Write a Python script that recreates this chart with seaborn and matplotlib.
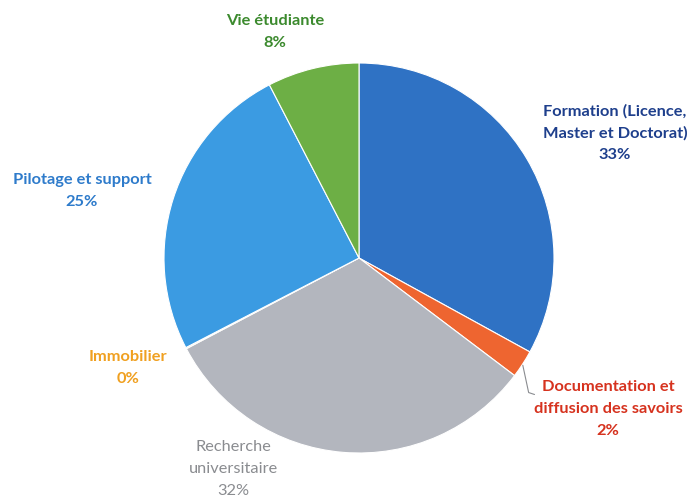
import matplotlib
matplotlib.use("Agg")
import matplotlib.pyplot as plt
import seaborn as sns

sns.set_theme(style="white")
plt.rcParams['font.family'] = ['Lato', 'DejaVu Sans']

categories = ["Formation (Licence,\nMaster et Doctorat)", "Documentation et\ndiffusion des savoirs",
              "Recherche\nuniversitaire", "Immobilier", "Pilotage et support", "Vie étudiante"]
values = [33.0, 2.3, 32.0, 0.1, 25.0, 7.6]
pct_labels = ["33%", "2%", "32%", "0%", "25%", "8%"]
colors = ["#2F72C4", "#EE6530", "#B3B6BE", "#F2A51C", "#3B9BE2", "#6DAF45"]
text_colors = ["#1E3F8C", "#D6321E", "#8A8C90", "#F0A020", "#2E7BCB", "#3C8A2E"]
text_weights = ["bold", "bold", "normal", "bold", "bold", "bold"]
label_pos = [(1.313, 0.641), (1.277, -0.774), (-0.646, -1.082), (-1.185, -0.564), (-1.421, 0.344), (-0.431, 1.159)]

W, H = 697, 497
fig = plt.figure(figsize=(W / 100, H / 100), dpi=100)
cx, cy, r = 359, 258, 195
ax = fig.add_axes([(cx - r) / W, (H - cy - r) / H, 2 * r / W, 2 * r / H])
ax.pie(values, colors=colors, startangle=90, counterclock=False, radius=1,
       wedgeprops=dict(edgecolor="white", linewidth=0.8))
ax.set_xlim(-1, 1)
ax.set_ylim(-1, 1)
ax.set_aspect("equal")
ax.axis("off")

for cat, pct, col, wt, (x, y) in zip(categories, pct_labels, text_colors, text_weights, label_pos):
    ax.text(x, y, f"{cat}\n{pct}", ha="center", va="center", color=col, fontsize=11.8,
            fontweight=wt, linespacing=1.7, clip_on=False)

# leader line for Documentation
ax.plot([0.84, 0.87, 0.90], [-0.55, -0.69, -0.70], color="#8A8C90", lw=0.8, clip_on=False)

fig.savefig("out.png", dpi=100)
